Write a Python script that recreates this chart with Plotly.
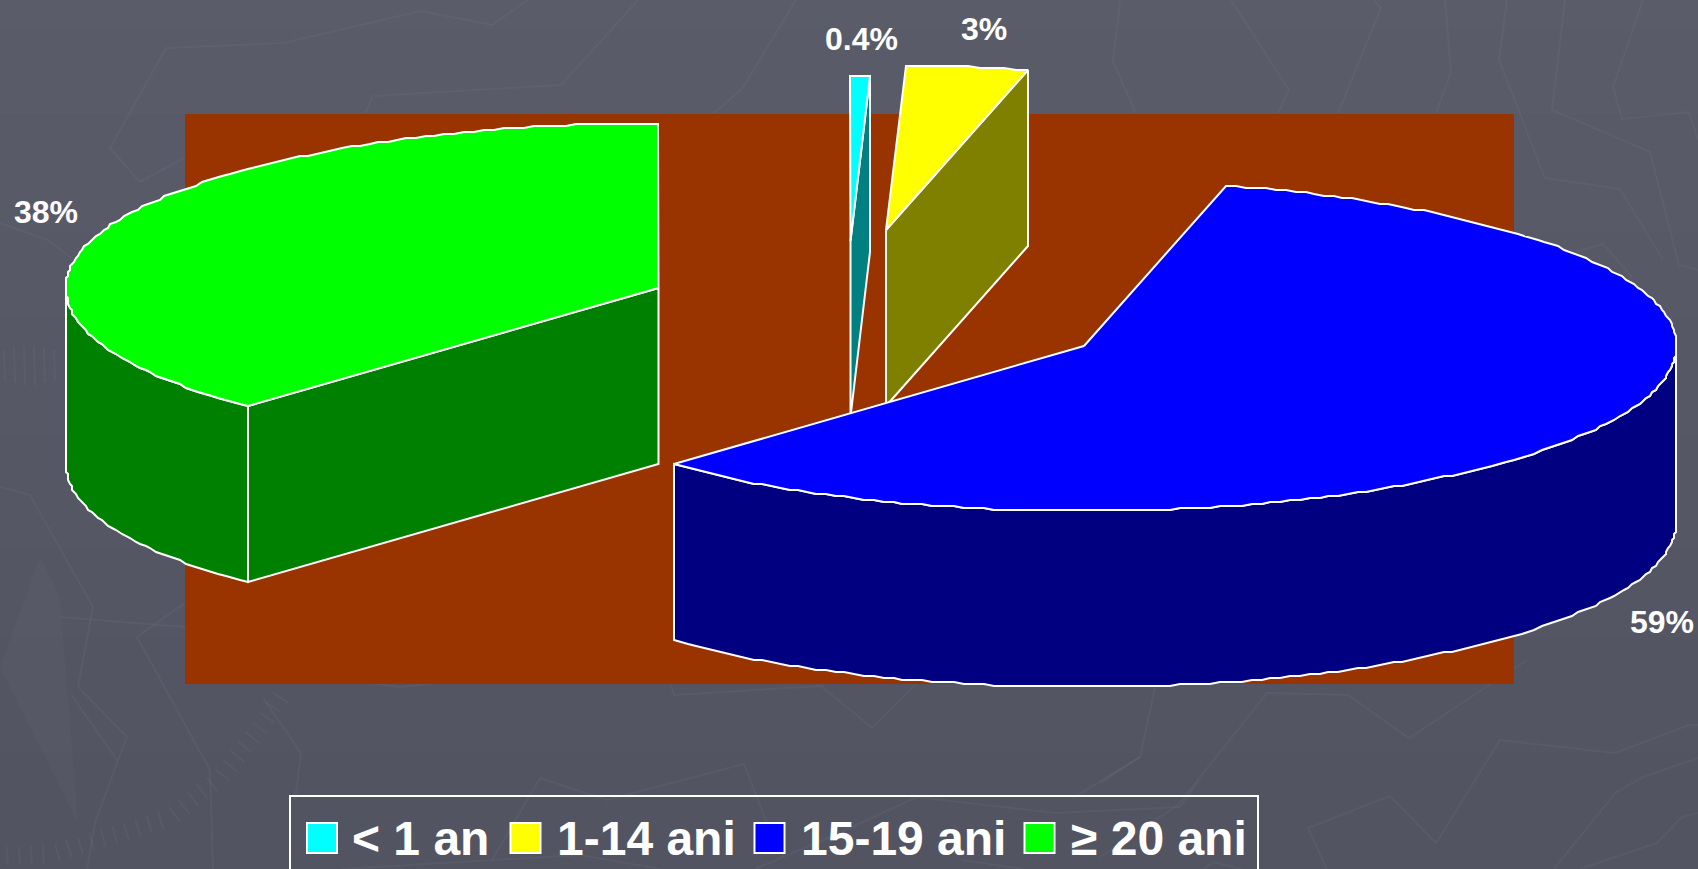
import numpy as np
import plotly.graph_objects as go

# slices, in the order the pie is drawn clockwise from 12 o'clock
categories = ["< 1 an", "1-14 ani", "15-19 ani", "≥ 20 ani"]
shares = [0.55, 3.3, 58.35, 37.8]  # labels are rounded
value_labels = ["0.4%", "3%", "59%", "38%"]

top_colors = ["#00ffff", "#ffff00", "#0000ff", "#00ff00"]
side_colors = ["#008080", "#808000", "#000080", "#008000"]

# pie layout, in page pixels
centers = [(850.5, 241), (886, 230), (1084, 346), (658.5, 288)]
rx, ry, depth = 592.5, 165, 176
label_pos = [(861, 39), (984, 29), (1662, 622), (45.5, 212)]
swatch_x = [322, 525.5, 769.5, 1039.5]
legend_text_x = [350, 555, 799, 1069]

# faint lines of the slide template behind the chart
template_lines = [
    [(0, 223), (48, 240), (71, 258)],
    [(184, 158), (140, 182), (110, 148), (166, 48), (283, 43), (421, 11), (492, 25), (528, 0)],
    [(365, 113), (373, 96), (561, 85), (638, 0)],
    [(714, 113), (742, 89), (796, 0)],
    [(1136, 113), (1113, 62), (1120, 0)],
    [(1278, 113), (1289, 90), (1231, 0)],
    [(1338, 113), (1381, 8), (1374, 0)],
    [(1436, 113), (1451, 72), (1445, 0)],
    [(1507, 0), (1499, 60), (1545, 178), (1620, 189), (1663, 260)],
    [(1565, 0), (1552, 110), (1650, 152), (1679, 265), (1698, 270)],
    [(1643, 0), (1613, 87), (1622, 119), (1689, 112), (1698, 140)],
    [(1574, 252), (1603, 244), (1632, 277)],
    [(1527, 660), (1409, 738), (1348, 695), (1267, 693), (1178, 805), (1100, 857)],
    [(1073, 798), (1140, 757), (1155, 688)],
    [(1100, 783), (1140, 757)],
    [(1327, 869), (1308, 828), (1390, 796), (1436, 843), (1500, 740), (1615, 753), (1689, 725), (1698, 725)],
    [(1554, 869), (1615, 793), (1643, 777), (1698, 758)],
    [(1580, 869), (1657, 843), (1682, 817), (1698, 813)],
    [(1203, 869), (1214, 862), (1241, 869)],
    [(671, 685), (674, 695), (821, 686), (872, 728), (917, 683)],
    [(263, 698), (301, 753), (295, 800)],
    [(492, 860), (540, 778), (607, 800), (744, 764), (767, 823)],
    [(371, 683), (400, 687), (435, 683)],
    [(185, 603), (137, 637), (210, 770), (213, 869)],
    [(60, 617), (185, 627)],
    [(0, 487), (30, 495), (93, 607), (78, 687), (127, 737), (118, 760), (95, 823), (87, 869)],
    [(72, 696), (117, 760)],
    [(1199, 780), (1180, 807), (1055, 813), (917, 797), (830, 837), (755, 869)],
    [(342, 869), (580, 855), (661, 869)],
    [(961, 860), (1024, 869)],
]
# compass scale ticks, lower left and left of the chart
scale_arc = [(7, 847), (50, 845), (100, 830), (165, 810), (215, 770), (255, 720), (275, 690)]
needle = [(40, 557), (60, 597), (78, 823), (0, 667)]
grid_step = 2  # the rim of the original is slightly stepped, not smooth

# slice limits, going round from the top
ends = -90 + np.cumsum(shares) * 3.6
starts = ends - np.array(shares) * 3.6

fig = go.Figure()


def poly(xs, ys, color):
    fig.add_trace(go.Scatter(x=xs, y=ys, mode="lines", fill="toself", fillcolor=color,
                             line=dict(color="white", width=2), hoverinfo="skip"))


def faint_path(points, fill=None, close=False):
    path = "M " + " L ".join("%g,%g" % p for p in points) + (" Z" if close else "")
    fig.add_shape(type="path", path=path, layer="below", fillcolor=fill,
                  line=dict(color="rgba(255,255,255,0.035)", width=2) if not close else dict(width=0))


# page background, slightly lighter at the top
bands = 30
for b in range(bands):
    f = b / (bands - 1)
    col = "rgb(%d,%d,%d)" % (91 - 8 * f, 92 - 8 * f, 106 - 8 * f)
    fig.add_shape(type="rect", x0=0, x1=1698, y0=869 * b / bands, y1=869 * (b + 1) / bands,
                  fillcolor=col, line_width=0, layer="below")

for line in template_lines:
    faint_path(line)
faint_path(needle, fill="rgba(255,255,255,0.02)", close=True)

# ticks along the compass scale
arc = np.array(scale_arc, dtype=float)
seg = np.hypot(*np.diff(arc, axis=0).T)
for d in np.arange(0, seg.sum(), 12):
    k = min(np.searchsorted(np.cumsum(seg), d), len(seg) - 1)
    u = (arc[k + 1] - arc[k]) / seg[k]
    p = arc[k] + u * (d - np.cumsum(np.r_[0, seg])[k])
    faint_path([tuple(p), tuple(p + np.array([u[1], -u[0]]) * -18)])
for x in np.arange(4, 60, 10):
    faint_path([(x, 345 + abs(x - 30) * 0.2), (x + 1, 387 - abs(x - 30) * 0.3)])

# brown plot area and legend box
fig.add_shape(type="rect", x0=185, x1=1514, y0=114, y1=684, fillcolor="#993300", line_width=0, layer="below")
fig.add_shape(type="rect", x0=290, x1=1258, y0=796, y1=900, line=dict(color="white", width=2), layer="below")

# back to front: the small slices sit behind the blue one
for i in [0, 1, 3, 2]:
    cx, cy = centers[i]
    n = max(int(ends[i] - starts[i]), 2)
    t = np.radians(np.linspace(starts[i], ends[i], n))
    rim_x = np.round((cx + rx * np.cos(t)) / grid_step) * grid_step
    rim_y = np.round((cy + ry * np.sin(t)) / grid_step) * grid_step

    # cut faces that look towards the viewer
    if i in [0, 1]:
        poly([cx, rim_x[-1], rim_x[-1], cx, cx], [cy, rim_y[-1], rim_y[-1] + depth, cy + depth, cy], side_colors[i])
    if i == 3:
        poly([cx, rim_x[0], rim_x[0], cx, cx], [cy, rim_y[0], rim_y[0] + depth, cy + depth, cy], side_colors[i])

    # outer wall, only the front half of the rim
    front = (np.degrees(t) % 360) < 180
    if front.any():
        wall_x = rim_x[front]
        wall_y = rim_y[front]
        poly(list(wall_x) + list(wall_x[::-1]) + [wall_x[0]],
             list(wall_y) + list(wall_y[::-1] + depth) + [wall_y[0]], side_colors[i])

    poly([cx] + list(rim_x) + [cx], [cy] + list(rim_y) + [cy], top_colors[i])

# legend swatches
fig.add_trace(go.Scatter(x=swatch_x, y=[838] * 4, mode="markers", hoverinfo="skip",
                         marker=dict(symbol="square", size=30, color=top_colors,
                                     line=dict(color="white", width=2))))

for label, (x, y) in zip(value_labels, label_pos):
    fig.add_annotation(x=x, y=y, text=label, showarrow=False,
                       font=dict(family="Liberation Sans", size=32, color="white", weight="bold"))
for name, x in zip(categories, legend_text_x):
    fig.add_annotation(x=x, y=838, text=name, showarrow=False, xanchor="left",
                       font=dict(family="Liberation Sans", size=48, color="white", weight="bold"))

fig.update_xaxes(range=[0, 1698], visible=False)
fig.update_yaxes(range=[869, 0], visible=False)
fig.update_layout(width=1698, height=869, margin=dict(l=0, r=0, t=0, b=0), showlegend=False,
                  paper_bgcolor="#55566a", plot_bgcolor="rgba(0,0,0,0)")

fig.write_html("out.html", config=dict(displayModeBar=False),
               post_script="document.body.style.margin='0';document.documentElement.style.overflow='hidden';")
